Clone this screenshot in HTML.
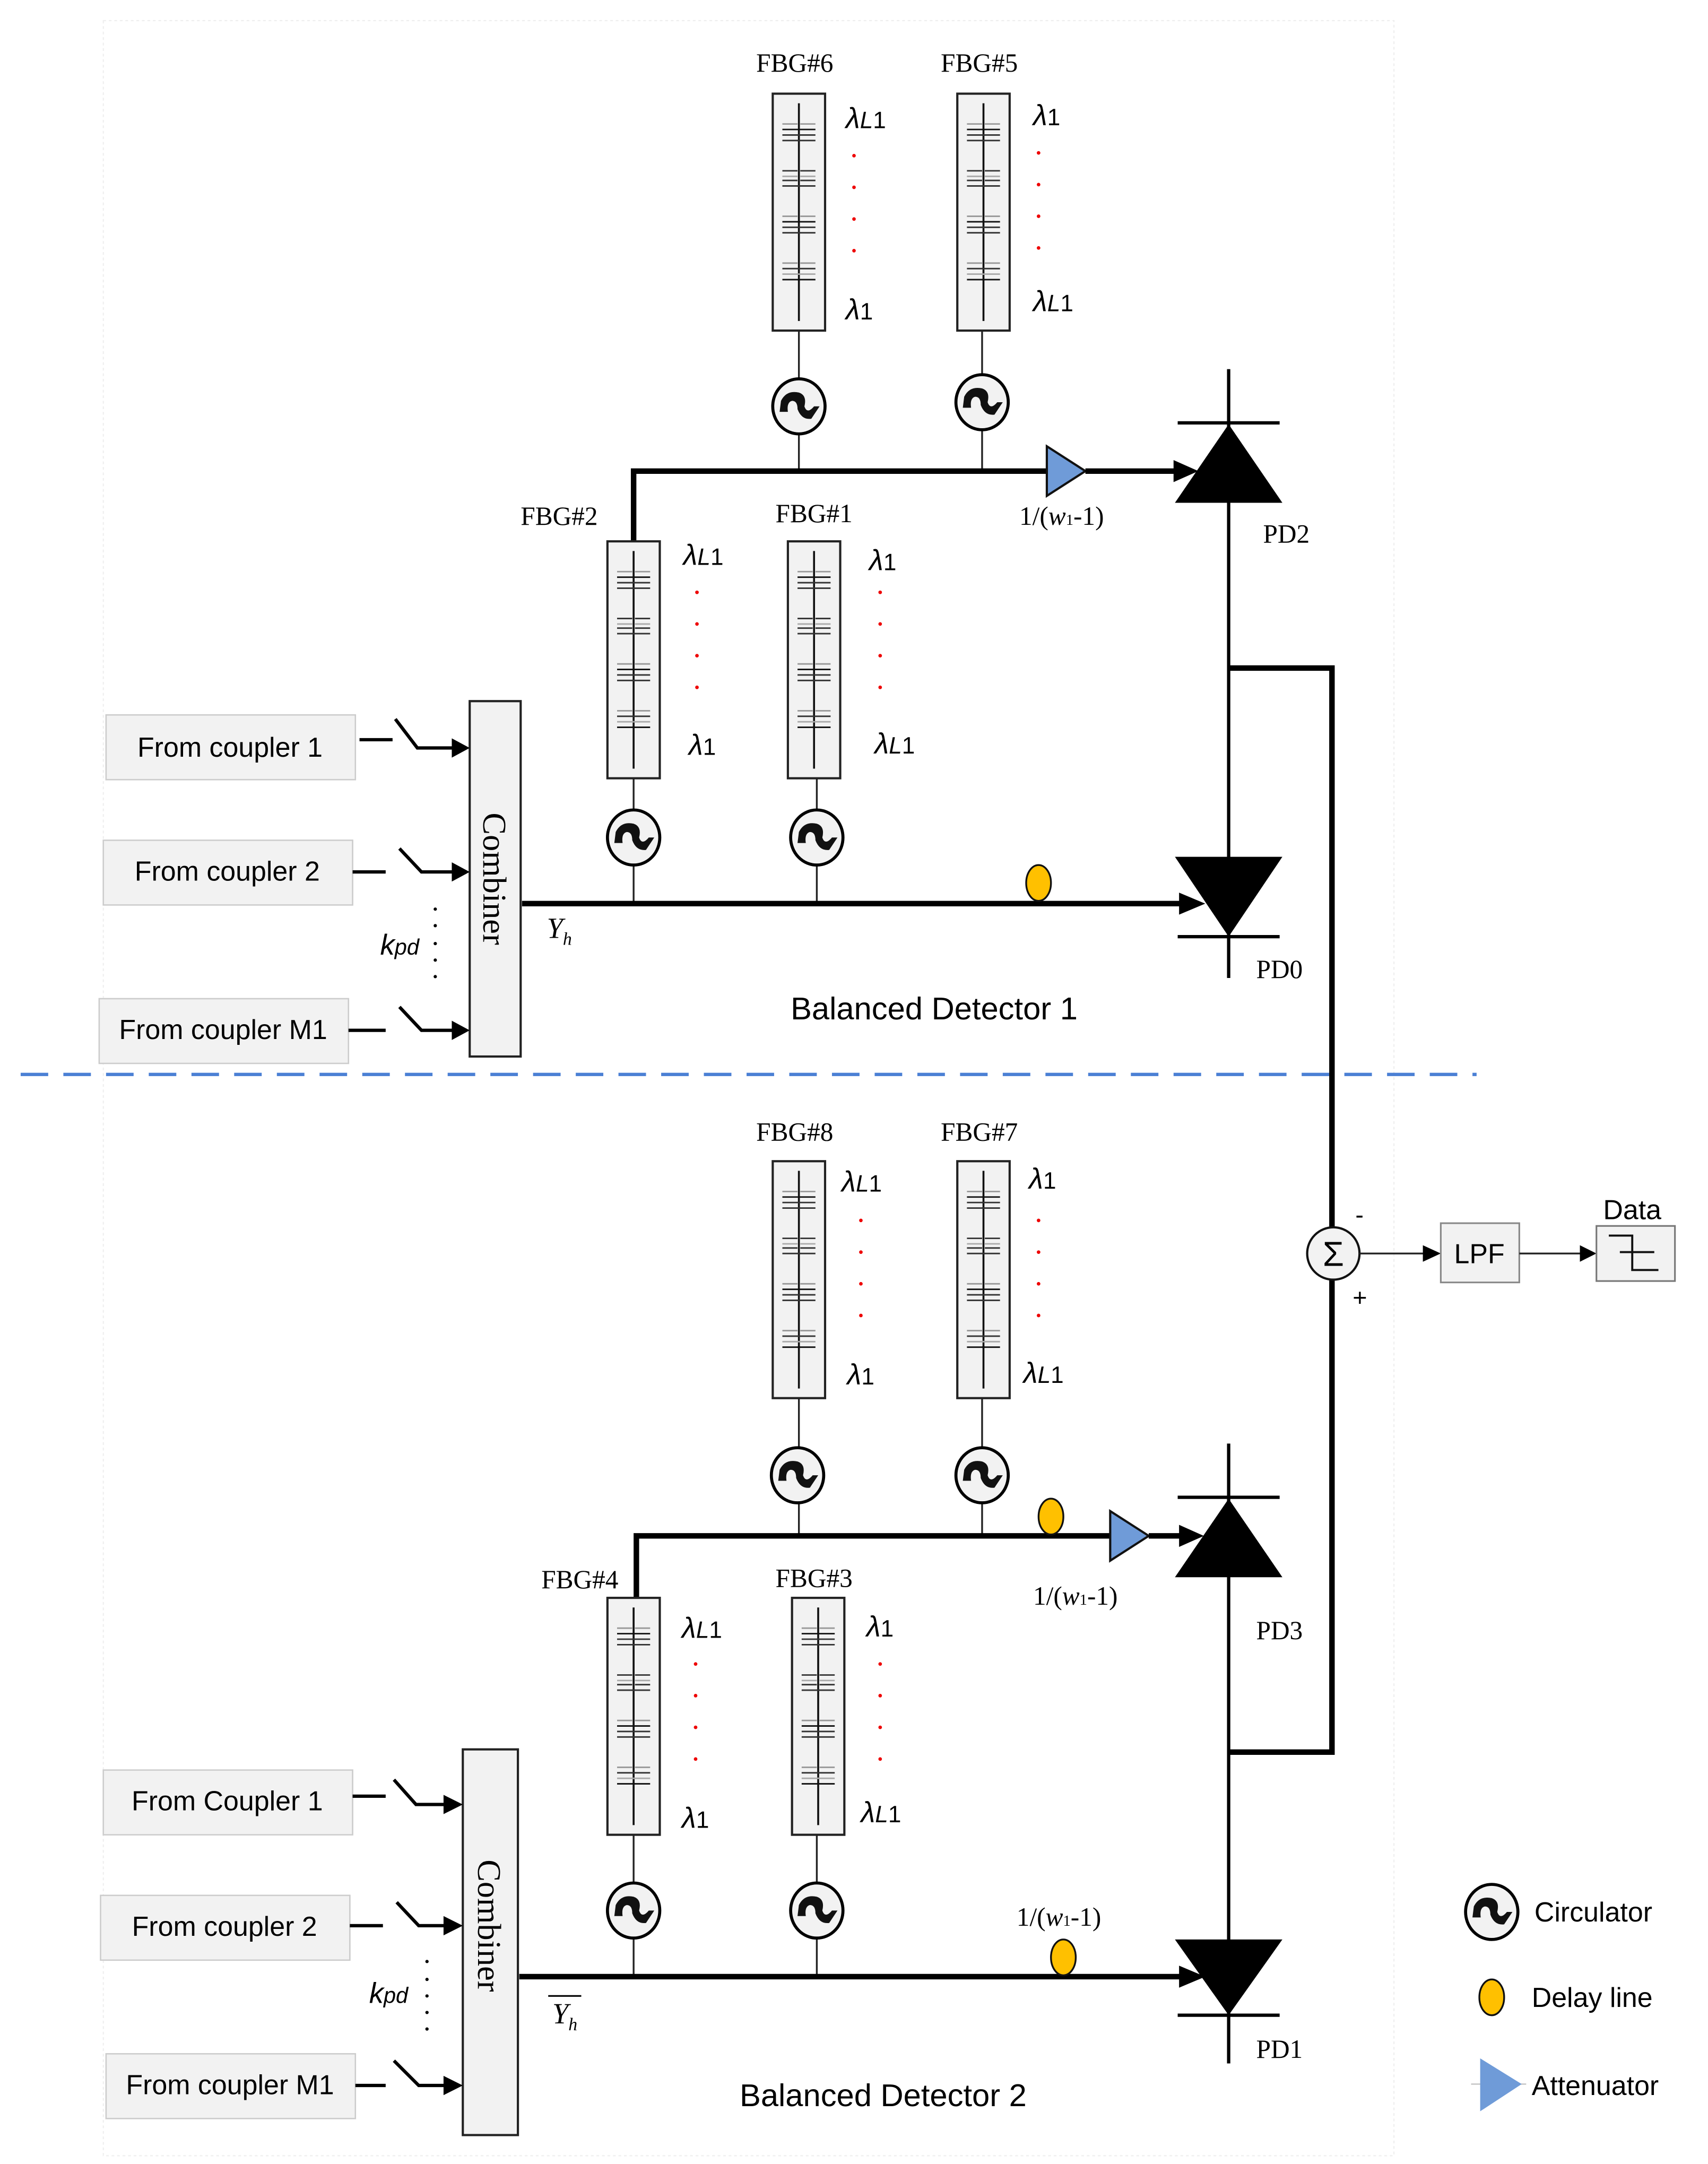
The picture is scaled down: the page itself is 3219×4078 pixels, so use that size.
<!DOCTYPE html>
<html><head><meta charset="utf-8"><style>
html,body{margin:0;padding:0;background:#fff}
svg{display:block}
.ser{font-family:"Liberation Serif",serif}
.san{font-family:"Liberation Sans",sans-serif}
</style></head><body>
<svg width="3219" height="4078" viewBox="0 0 1240 1571" preserveAspectRatio="none" xmlns="http://www.w3.org/2000/svg">
<defs>
<g id="half">
<line x1="20" y1="22" x2="31" y2="22" stroke="#999"/><line x1="19" y1="26" x2="31" y2="26" stroke="#111"/><line x1="18" y1="30" x2="31" y2="30"/><line x1="18" y1="34" x2="31" y2="34"/>
<line x1="20" y1="56" x2="31" y2="56"/><line x1="20" y1="60" x2="31" y2="60" stroke="#aaa"/><line x1="20" y1="63" x2="31" y2="63"/><line x1="18" y1="67" x2="31" y2="67"/>
<line x1="20" y1="89" x2="31" y2="89" stroke="#999"/><line x1="19" y1="93" x2="31" y2="93" stroke="#111"/><line x1="19" y1="97" x2="31" y2="97"/><line x1="18" y1="101" x2="31" y2="101"/>
<line x1="20" y1="123" x2="31" y2="123" stroke="#999"/><line x1="19" y1="127" x2="31" y2="127"/><line x1="19" y1="131" x2="31" y2="131" stroke="#aaa"/><line x1="18" y1="135" x2="31" y2="135" stroke="#111"/>
</g>
<g id="fbg">
<rect x="0" y="0" width="38" height="172" fill="#f2f2f2" stroke="#222" stroke-width="1.6"/>
<line x1="19" y1="7" x2="19" y2="165" stroke="#111" stroke-width="1.4"/>
<g stroke="#333" stroke-width="1.1"><use href="#half"/><use href="#half" transform="translate(38,0) scale(-1,1)"/></g>
</g>
<g id="circ">
<ellipse cx="0" cy="0" rx="19" ry="20" fill="#f2f2f2" stroke="#000" stroke-width="2.2"/>
<path d="M-14,4 L-13,-4 Q-9,-12 0,-10 Q6,-8 4,0 Q6,6 11,0 L15,0 L9,9 Q2,10 -1,2 Q-1,-4 -5,-4 Q-9,-3 -8,4 Z" fill="#111"/>
</g>
<g id="delay"><ellipse cx="0" cy="0" rx="9" ry="13" fill="#ffc000" stroke="#111" stroke-width="1.3"/></g>
<g id="att"><polygon points="0,-18 28,0 0,18" fill="#6f9bd8" stroke="#111" stroke-width="1.6"/></g>
</defs>

<rect x="75" y="15" width="937" height="1550" fill="none" stroke="#eee" stroke-width="0.8" stroke-dasharray="2,2"/>

<text x="549" y="52" class="ser" font-size="19">FBG#6</text>
<text x="683" y="52" class="ser" font-size="19">FBG#5</text>
<use href="#fbg" x="561" y="68"/>
<use href="#fbg" x="695" y="68"/>
<line x1="580" y1="240" x2="580" y2="275" stroke="#222" stroke-width="1.3"/>
<line x1="713" y1="240" x2="713" y2="272" stroke="#222" stroke-width="1.3"/>
<line x1="580" y1="315" x2="580" y2="342" stroke="#222" stroke-width="1.3"/>
<line x1="713" y1="312" x2="713" y2="342" stroke="#222" stroke-width="1.3"/>
<use href="#circ" x="580" y="295"/>
<use href="#circ" x="713" y="292"/>
<g class="san" font-style="italic" font-size="21">
<text x="614" y="93">λ<tspan font-size="17">L</tspan><tspan font-size="17" font-style="normal">1</tspan></text>
<text x="614" y="232">λ<tspan font-size="17" font-style="normal">1</tspan></text>
<text x="750" y="91">λ<tspan font-size="17" font-style="normal">1</tspan></text>
<text x="750" y="226">λ<tspan font-size="17">L</tspan><tspan font-size="17" font-style="normal">1</tspan></text>
</g>
<g fill="#e00"><circle cx="620" cy="113" r="1.3"/><circle cx="620" cy="136" r="1.3"/><circle cx="620" cy="159" r="1.3"/><circle cx="620" cy="182" r="1.3"/>
<circle cx="754" cy="111" r="1.3"/><circle cx="754" cy="134" r="1.3"/><circle cx="754" cy="157" r="1.3"/><circle cx="754" cy="180" r="1.3"/></g>

<polyline points="460,393 460,342 760,342" fill="none" stroke="#000" stroke-width="4"/>
<use href="#att" x="760" y="342"/>
<line x1="788" y1="342" x2="856" y2="342" stroke="#000" stroke-width="4"/>
<polygon points="852,334 870,342 852,350" fill="#000"/>
<text x="740" y="381" class="ser" font-size="19">1/(<tspan font-style="italic">w</tspan><tspan font-size="11">1</tspan>-1)</text>

<line x1="892" y1="268" x2="892" y2="486" stroke="#000" stroke-width="2.4"/>
<line x1="855" y1="307" x2="929" y2="307" stroke="#000" stroke-width="2.4"/>
<polygon points="892,308 853,365 931,365" fill="#000"/>
<text x="917" y="394" class="ser" font-size="19">PD2</text>

<text x="378" y="381" class="ser" font-size="19">FBG#2</text>
<text x="563" y="379" class="ser" font-size="19">FBG#1</text>
<use href="#fbg" x="441" y="393"/>
<use href="#fbg" x="572" y="393"/>
<line x1="460" y1="565" x2="460" y2="588" stroke="#222" stroke-width="1.3"/>
<line x1="593" y1="565" x2="593" y2="588" stroke="#222" stroke-width="1.3"/>
<line x1="460" y1="628" x2="460" y2="656" stroke="#222" stroke-width="1.3"/>
<line x1="593" y1="628" x2="593" y2="656" stroke="#222" stroke-width="1.3"/>
<use href="#circ" x="460" y="608"/>
<use href="#circ" x="593" y="608"/>
<g class="san" font-style="italic" font-size="21">
<text x="496" y="410">λ<tspan font-size="17">L</tspan><tspan font-size="17" font-style="normal">1</tspan></text>
<text x="500" y="548">λ<tspan font-size="17" font-style="normal">1</tspan></text>
<text x="631" y="414">λ<tspan font-size="17" font-style="normal">1</tspan></text>
<text x="635" y="547">λ<tspan font-size="17">L</tspan><tspan font-size="17" font-style="normal">1</tspan></text>
</g>
<g fill="#e00"><circle cx="506" cy="430" r="1.3"/><circle cx="506" cy="453" r="1.3"/><circle cx="506" cy="476" r="1.3"/><circle cx="506" cy="499" r="1.3"/>
<circle cx="639" cy="430" r="1.3"/><circle cx="639" cy="453" r="1.3"/><circle cx="639" cy="476" r="1.3"/><circle cx="639" cy="499" r="1.3"/></g>

<line x1="379" y1="656" x2="860" y2="656" stroke="#000" stroke-width="4"/>
<polygon points="856,648 875,656 856,664" fill="#000"/>
<use href="#delay" x="754" y="641"/>
<text x="397" y="681" class="ser" font-style="italic" font-size="21">Y<tspan font-size="13" dy="5">h</tspan></text>

<line x1="892" y1="486" x2="892" y2="710" stroke="#000" stroke-width="2.4"/>
<polygon points="853,622 931,622 892,680" fill="#000"/>
<line x1="855" y1="680" x2="929" y2="680" stroke="#000" stroke-width="2.4"/>
<text x="912" y="710" class="ser" font-size="19">PD0</text>

<rect x="341" y="509" width="37" height="258" fill="#f2f2f2" stroke="#222" stroke-width="1.6"/>
<text transform="translate(351,638) rotate(90)" class="ser" font-size="24" text-anchor="middle">Combiner</text>
<g class="san" font-size="20">
<rect x="77" y="519" width="181" height="47" fill="#f2f2f2" stroke="#ccc"/><text x="167" y="544" text-anchor="middle" dominant-baseline="middle">From coupler 1</text>
<rect x="75" y="610" width="181" height="47" fill="#f2f2f2" stroke="#ccc"/><text x="165" y="634" text-anchor="middle" dominant-baseline="middle">From coupler 2</text>
<rect x="72" y="725" width="181" height="47" fill="#f2f2f2" stroke="#ccc"/><text x="162" y="749" text-anchor="middle" dominant-baseline="middle">From coupler M1</text>
</g>
<g stroke="#000" stroke-width="2.4" fill="none">
<polyline points="261,537 285,537"/><polyline points="287,522 303,543 330,543"/>
<polyline points="256,633 280,633"/><polyline points="290,616 306,633 330,633"/>
<polyline points="253,748 280,748"/><polyline points="290,731 306,748 330,748"/>
</g>
<g fill="#000"><polygon points="328,536 341,543 328,550"/><polygon points="328,626 341,633 328,640"/><polygon points="328,741 341,748 328,755"/></g>
<g fill="#000"><circle cx="316" cy="660" r="1.2"/><circle cx="316" cy="672" r="1.2"/><circle cx="316" cy="685" r="1.2"/><circle cx="316" cy="697" r="1.2"/><circle cx="316" cy="709" r="1.2"/></g>
<text x="276" y="693" class="san" font-style="italic" font-size="21">k<tspan font-size="16">pd</tspan></text>
<text x="574" y="740" class="san" font-size="23">Balanced Detector 1</text>

<line x1="15" y1="780" x2="1072" y2="780" stroke="#4a7fd4" stroke-width="2.4" stroke-dasharray="20,11"/>

<polyline points="892,485 967,485 967,891" fill="none" stroke="#000" stroke-width="4"/>
<polyline points="892,1272 967,1272 967,929" fill="none" stroke="#000" stroke-width="4"/>
<circle cx="968" cy="910" r="19" fill="#f2f2f2" stroke="#111" stroke-width="1.6"/>
<text x="968" y="919" class="san" font-size="25" text-anchor="middle">Σ</text>
<text x="984" y="888" class="san" font-size="18">-</text>
<text x="982" y="948" class="san" font-size="18">+</text>
<line x1="987" y1="910" x2="1036" y2="910" stroke="#222" stroke-width="1.3"/>
<polygon points="1033,904 1046,910 1033,916" fill="#000"/>
<rect x="1046" y="888" width="57" height="43" fill="#f2f2f2" stroke="#888" stroke-width="1.2"/>
<text x="1074" y="917" class="san" font-size="20" text-anchor="middle">LPF</text>
<line x1="1103" y1="910" x2="1150" y2="910" stroke="#222" stroke-width="1.3"/>
<polygon points="1147,904 1159,910 1147,916" fill="#000"/>
<rect x="1159" y="890" width="57" height="40" fill="#f2f2f2" stroke="#777" stroke-width="1.2"/>
<text x="1185" y="885" class="san" font-size="20" text-anchor="middle">Data</text>
<polyline points="1168,897 1185,897 1185,922 1204,922" fill="none" stroke="#111" stroke-width="1.5"/>
<line x1="1176" y1="909" x2="1201" y2="909" stroke="#111" stroke-width="1.5"/>

<text x="549" y="828" class="ser" font-size="19">FBG#8</text>
<text x="683" y="828" class="ser" font-size="19">FBG#7</text>
<use href="#fbg" x="561" y="843"/>
<use href="#fbg" x="695" y="843"/>
<line x1="580" y1="1015" x2="580" y2="1051" stroke="#222" stroke-width="1.3"/>
<line x1="713" y1="1015" x2="713" y2="1051" stroke="#222" stroke-width="1.3"/>
<line x1="580" y1="1091" x2="580" y2="1115" stroke="#222" stroke-width="1.3"/>
<line x1="713" y1="1091" x2="713" y2="1115" stroke="#222" stroke-width="1.3"/>
<use href="#circ" x="579" y="1071"/>
<use href="#circ" x="713" y="1071"/>
<g class="san" font-style="italic" font-size="21">
<text x="611" y="865">λ<tspan font-size="17">L</tspan><tspan font-size="17" font-style="normal">1</tspan></text>
<text x="615" y="1005">λ<tspan font-size="17" font-style="normal">1</tspan></text>
<text x="747" y="863">λ<tspan font-size="17" font-style="normal">1</tspan></text>
<text x="743" y="1004">λ<tspan font-size="17">L</tspan><tspan font-size="17" font-style="normal">1</tspan></text>
</g>
<g fill="#e00"><circle cx="625" cy="886" r="1.3"/><circle cx="625" cy="909" r="1.3"/><circle cx="625" cy="932" r="1.3"/><circle cx="625" cy="955" r="1.3"/>
<circle cx="754" cy="886" r="1.3"/><circle cx="754" cy="909" r="1.3"/><circle cx="754" cy="932" r="1.3"/><circle cx="754" cy="955" r="1.3"/></g>

<polyline points="462,1160 462,1115 806,1115" fill="none" stroke="#000" stroke-width="4"/>
<use href="#delay" x="763" y="1101"/>
<use href="#att" x="806" y="1115"/>
<line x1="834" y1="1115" x2="860" y2="1115" stroke="#000" stroke-width="4"/>
<polygon points="856,1107 874,1115 856,1123" fill="#000"/>
<text x="750" y="1165" class="ser" font-size="19">1/(<tspan font-style="italic">w</tspan><tspan font-size="11">1</tspan>-1)</text>

<line x1="892" y1="1048" x2="892" y2="1498" stroke="#000" stroke-width="2.4"/>
<line x1="855" y1="1087" x2="929" y2="1087" stroke="#000" stroke-width="2.4"/>
<polygon points="892,1088 853,1145 931,1145" fill="#000"/>
<text x="912" y="1190" class="ser" font-size="19">PD3</text>

<text x="393" y="1153" class="ser" font-size="19">FBG#4</text>
<text x="563" y="1152" class="ser" font-size="19">FBG#3</text>
<use href="#fbg" x="441" y="1160"/>
<use href="#fbg" x="575" y="1160"/>
<line x1="460" y1="1332" x2="460" y2="1367" stroke="#222" stroke-width="1.3"/>
<line x1="593" y1="1332" x2="593" y2="1367" stroke="#222" stroke-width="1.3"/>
<line x1="460" y1="1407" x2="460" y2="1435" stroke="#222" stroke-width="1.3"/>
<line x1="593" y1="1407" x2="593" y2="1435" stroke="#222" stroke-width="1.3"/>
<use href="#circ" x="460" y="1387"/>
<use href="#circ" x="593" y="1387"/>
<g class="san" font-style="italic" font-size="21">
<text x="495" y="1189">λ<tspan font-size="17">L</tspan><tspan font-size="17" font-style="normal">1</tspan></text>
<text x="495" y="1327">λ<tspan font-size="17" font-style="normal">1</tspan></text>
<text x="629" y="1188">λ<tspan font-size="17" font-style="normal">1</tspan></text>
<text x="625" y="1323">λ<tspan font-size="17">L</tspan><tspan font-size="17" font-style="normal">1</tspan></text>
</g>
<g fill="#e00"><circle cx="505" cy="1208" r="1.3"/><circle cx="505" cy="1231" r="1.3"/><circle cx="505" cy="1254" r="1.3"/><circle cx="505" cy="1277" r="1.3"/>
<circle cx="639" cy="1208" r="1.3"/><circle cx="639" cy="1231" r="1.3"/><circle cx="639" cy="1254" r="1.3"/><circle cx="639" cy="1277" r="1.3"/></g>

<line x1="377" y1="1435" x2="860" y2="1435" stroke="#000" stroke-width="4"/>
<polygon points="856,1427 875,1435 856,1443" fill="#000"/>
<use href="#delay" x="772" y="1421"/>
<text x="738" y="1398" class="ser" font-size="19">1/(<tspan font-style="italic">w</tspan><tspan font-size="11">1</tspan>-1)</text>
<line x1="398" y1="1449" x2="422" y2="1449" stroke="#000" stroke-width="1.2"/>
<text x="401" y="1469" class="ser" font-style="italic" font-size="21">Y<tspan font-size="13" dy="5">h</tspan></text>

<polygon points="853,1408 931,1408 892,1463" fill="#000"/>
<line x1="855" y1="1463" x2="929" y2="1463" stroke="#000" stroke-width="2.4"/>
<text x="912" y="1494" class="ser" font-size="19">PD1</text>

<rect x="336" y="1270" width="40" height="280" fill="#f2f2f2" stroke="#222" stroke-width="1.6"/>
<text transform="translate(347,1398) rotate(90)" class="ser" font-size="24" text-anchor="middle">Combiner</text>
<g class="san" font-size="20">
<rect x="75" y="1285" width="181" height="47" fill="#f2f2f2" stroke="#ccc"/><text x="165" y="1309" text-anchor="middle" dominant-baseline="middle">From Coupler 1</text>
<rect x="73" y="1376" width="181" height="47" fill="#f2f2f2" stroke="#ccc"/><text x="163" y="1400" text-anchor="middle" dominant-baseline="middle">From coupler 2</text>
<rect x="77" y="1491" width="181" height="47" fill="#f2f2f2" stroke="#ccc"/><text x="167" y="1515" text-anchor="middle" dominant-baseline="middle">From coupler M1</text>
</g>
<g stroke="#000" stroke-width="2.4" fill="none">
<polyline points="256,1304 280,1304"/><polyline points="286,1292 302,1310 324,1310"/>
<polyline points="254,1398 278,1398"/><polyline points="288,1381 304,1398 324,1398"/>
<polyline points="258,1514 280,1514"/><polyline points="286,1496 304,1514 324,1514"/>
</g>
<g fill="#000"><polygon points="322,1303 336,1310 322,1317"/><polygon points="322,1391 336,1398 322,1405"/><polygon points="322,1507 336,1514 322,1521"/></g>
<g fill="#000"><circle cx="310" cy="1424" r="1.2"/><circle cx="310" cy="1437" r="1.2"/><circle cx="310" cy="1449" r="1.2"/><circle cx="310" cy="1461" r="1.2"/><circle cx="310" cy="1473" r="1.2"/></g>
<text x="268" y="1454" class="san" font-style="italic" font-size="21">k<tspan font-size="16">pd</tspan></text>
<text x="537" y="1529" class="san" font-size="23">Balanced Detector 2</text>

<use href="#circ" x="1083" y="1388"/>
<text x="1114" y="1395" class="san" font-size="20">Circulator</text>
<use href="#delay" x="1083" y="1450"/>
<text x="1112" y="1457" class="san" font-size="20">Delay line</text>
<line x1="1068" y1="1513" x2="1108" y2="1513" stroke="#bbb" stroke-width="0.8"/>
<polygon points="1075,1495 1104,1513 1075,1532" fill="#6f9bd8" stroke="#6f9bd8" stroke-width="0.8"/>
<text x="1112" y="1521" class="san" font-size="20">Attenuator</text>
</svg>
</body></html>
